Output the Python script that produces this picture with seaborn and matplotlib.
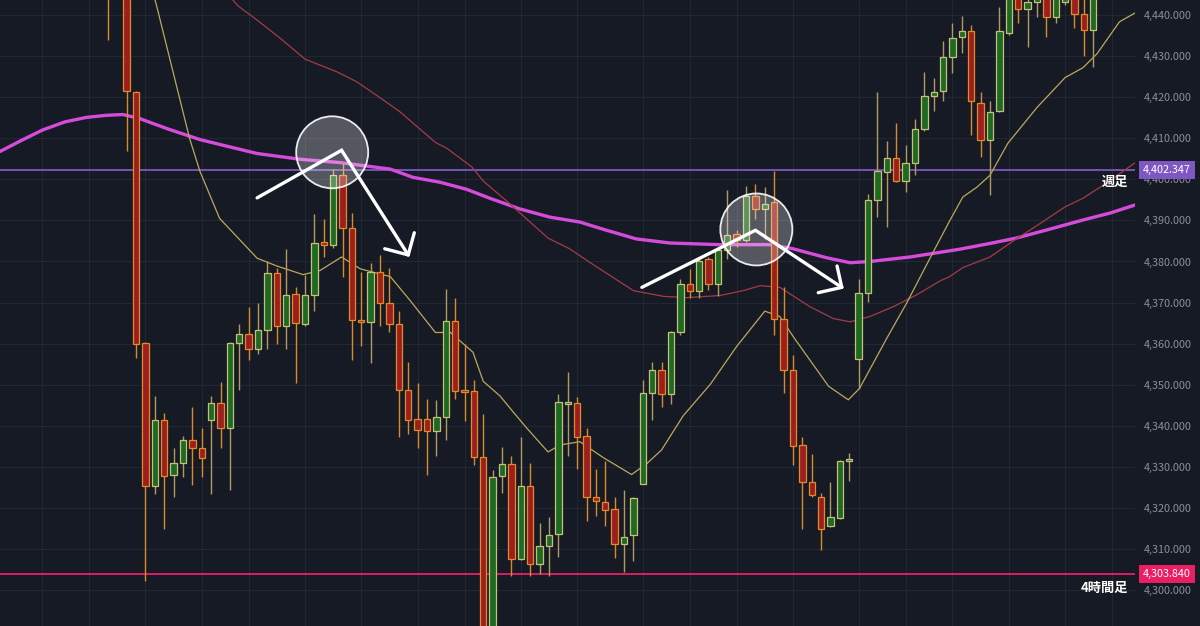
import matplotlib
matplotlib.use("Agg")
import matplotlib.pyplot as plt
import matplotlib.transforms as mtransforms
from matplotlib.patches import Ellipse
import seaborn as sns

# 4h candles, one entry per candle (x = candle number)
opens = [4455, 4450, 4447, 4421.2, 4360.1, 4325.2, 4341.4, 4328.1, 4331.0, 4336.6,
         4334.6, 4341.4, 4345.6, 4339.5, 4360.1, 4362.4, 4358.8, 4363.4, 4377.3, 4364.4,
         4372.1, 4364.7, 4371.9, 4384.8, 4384.1, 4401.0, 4388.2, 4365.8, 4365.2, 4377.5,
         4370.0, 4364.7, 4348.7, 4341.7, 4341.7, 4338.8, 4342.1, 4365.6, 4348.5, 4348.5,
         4332.4, 4286.0, 4327.8, 4330.7, 4307.5, 4325.2, 4306.2, 4310.7, 4313.6, 4345.4,
         4345.6, 4337.5, 4322.7, 4321.5, 4319.6, 4311.1, 4313.3, 4325.9, 4347.9, 4353.5,
         4347.7, 4362.7, 4374.6, 4372.7, 4380.5, 4374.6, 4382.8, 4386.7, 4385.3, 4396.0,
         4392.8, 4394.4, 4365.9, 4353.5, 4335.3, 4326.4, 4322.7, 4315.5, 4317.6, 4331.4,
         4356.2, 4372.4, 4395.0, 4401.8, 4405.1, 4399.6, 4403.9, 4412.2, 4420.2, 4421.6,
         4429.9, 4434.8, 4436.1, 4418.7, 4409.5, 4416.7, 4435.6, 4447.0, 4441.6, 4443.2,
         4448.0, 4439.6, 4443.2, 4447.0, 4440.2, 4436.3]
highs = [4460, 4456, 4450, 4421.5, 4360.5, 4347.2, 4343.0, 4334.6, 4337.5, 4344.6,
         4339.5, 4347.2, 4350.6, 4360.3, 4364.7, 4369.0, 4370.0, 4380.2, 4378.5, 4383.1,
         4373.7, 4376.8, 4391.6, 4390.4, 4402.5, 4404.1, 4391.8, 4377.5, 4379.7, 4381.6,
         4378.5, 4367.9, 4355.4, 4350.4, 4346.5, 4346.3, 4373.4, 4371.2, 4359.8, 4351.1,
         4342.9, 4329.3, 4334.9, 4332.7, 4337.2, 4331.0, 4316.2, 4317.8, 4347.7, 4353.0,
         4346.9, 4339.5, 4329.5, 4331.4, 4322.7, 4324.4, 4322.7, 4351.1, 4355.6, 4355.4,
         4363.0, 4375.8, 4378.2, 4381.1, 4381.1, 4383.6, 4397.3, 4387.6, 4398.3, 4398.9,
         4398.1, 4402.0, 4373.9, 4357.2, 4337.2, 4333.2, 4323.7, 4326.2, 4331.6, 4333.4,
         4375.8, 4396.4, 4421.4, 4409.3, 4413.8, 4408.3, 4414.6, 4426.2, 4424.8, 4433.8,
         4438.1, 4439.8, 4437.7, 4421.2, 4419.0, 4442.0, 4449.0, 4450.0, 4446.0, 4447.0,
         4451.0, 4448.0, 4447.0, 4450.0, 4444.5, 4449.0]
lows = [4434.0, 4446, 4407.0, 4356.6, 4302.1, 4323.3, 4314.9, 4322.7, 4327.5, 4325.6,
        4327.5, 4323.3, 4334.6, 4324.4, 4348.7, 4356.0, 4357.4, 4358.6, 4359.8, 4358.8,
        4350.4, 4364.2, 4367.9, 4381.1, 4383.4, 4376.3, 4356.0, 4359.5, 4355.3, 4364.2,
        4362.7, 4337.2, 4338.0, 4334.6, 4328.1, 4332.7, 4336.6, 4346.5, 4341.1, 4330.4,
        4280.0, 4282.0, 4323.7, 4303.3, 4307.2, 4303.3, 4303.9, 4303.3, 4308.1, 4332.7,
        4329.5, 4316.9, 4318.1, 4315.5, 4307.7, 4304.3, 4307.0, 4325.7, 4341.4, 4344.6,
        4345.3, 4362.2, 4371.2, 4371.2, 4373.1, 4371.7, 4380.7, 4383.6, 4384.7, 4390.4,
        4385.5, 4362.0, 4347.9, 4330.4, 4314.9, 4322.7, 4309.7, 4315.3, 4317.2, 4326.6,
        4348.9, 4370.2, 4390.8, 4388.4, 4399.4, 4396.9, 4401.0, 4411.7, 4416.7, 4419.2,
        4426.0, 4430.9, 4410.7, 4405.4, 4396.2, 4416.5, 4435.1, 4438.0, 4432.3, 4439.6,
        4434.7, 4438.0, 4442.5, 4436.8, 4430.0, 4427.4]
closes = [4448, 4452, 4421.6, 4359.8, 4325.2, 4341.4, 4327.8, 4331.0, 4336.6, 4334.6,
          4332.2, 4345.6, 4339.5, 4360.1, 4362.4, 4358.8, 4363.2, 4377.3, 4364.4, 4371.9,
          4364.9, 4371.9, 4384.5, 4384.1, 4401.0, 4388.2, 4365.8, 4365.3, 4377.5, 4370.0,
          4364.7, 4348.7, 4341.4, 4339.0, 4338.8, 4342.1, 4365.6, 4348.5, 4348.3, 4332.4,
          4288.0, 4327.5, 4330.7, 4307.5, 4325.2, 4306.2, 4310.7, 4313.3, 4345.8, 4345.8,
          4337.2, 4322.7, 4321.7, 4319.4, 4311.1, 4313.0, 4322.3, 4347.9, 4353.5, 4347.7,
          4362.7, 4374.6, 4372.7, 4380.2, 4374.6, 4382.8, 4386.5, 4385.3, 4396.0, 4392.8,
          4394.0, 4365.9, 4353.5, 4335.1, 4326.4, 4323.0, 4314.9, 4317.8, 4331.4, 4331.6,
          4372.4, 4395.0, 4402.0, 4405.1, 4399.6, 4403.9, 4412.2, 4420.4, 4421.4, 4429.9,
          4434.5, 4436.1, 4419.0, 4409.5, 4416.5, 4436.1, 4446.0, 4441.6, 4443.2, 4445.0,
          4439.6, 4446.0, 4444.0, 4440.2, 4436.3, 4446.0]

# moving averages (x = candle number, y = price)
ma_long_x = [-11.5, -9.3, -7, -4.6, -2.3, -0.2, 1.6, 3.4, 6.5, 9.8, 12.3, 15.9, 20.5,
             24.7, 30.1, 32.5, 35.4, 38.2, 40.7, 43.9, 47.1, 50.3, 52.7, 56.3, 59.9,
             65.2, 70.5, 73.0, 76.6, 79.1, 81.2, 85.5, 90.8, 94.0, 96.8, 100.4, 103.9,
             106.8, 109.5]
ma_long_y = [4406.8, 4409.4, 4412.0, 4414.0, 4415.1, 4415.6, 4415.8, 4414.8, 4412.2,
             4409.7, 4408.3, 4406.3, 4404.9, 4404.1, 4402.5, 4400.5, 4399.3, 4397.6,
             4395.4, 4392.8, 4390.8, 4389.6, 4387.9, 4385.5, 4384.5, 4384.1, 4384.1,
             4383.1, 4380.9, 4379.7, 4380.0, 4381.1, 4383.0, 4384.4, 4385.7, 4387.9,
             4390.1, 4391.8, 4393.8]

ma_fast_x = [4.5, 5.2, 8.7, 9.8, 11.9, 15.9, 18.0, 20.8, 22.6, 24.9, 26.9, 30.1, 32.2,
             34.9, 36.5, 38.9, 40.0, 41.8, 43.2, 44.6, 46.9, 48.2, 50.3, 52.8, 55.8,
             57.4, 59.0, 61.3, 64.2, 67.0, 70.0, 71.6, 73.0, 74.8, 76.8, 78.9, 80.1,
             83.0, 85.1, 87.9, 89.7, 91.1, 92.6, 94.0, 95.9, 99.0, 102.0, 103.9, 105.4,
             107.8, 109.5]
ma_fast_y = [4448.0, 4442.2, 4410.0, 4402.0, 4390.5, 4380.8, 4378.9, 4376.8, 4377.8,
             4381.1, 4378.2, 4376.3, 4370.5, 4362.7, 4362.7, 4357.9, 4350.8, 4347.2,
             4343.3, 4339.5, 4333.6, 4335.3, 4336.1, 4332.2, 4328.1, 4330.7, 4334.1,
             4342.4, 4350.1, 4359.3, 4367.9, 4366.6, 4361.8, 4356.0, 4349.6, 4346.3,
             4349.1, 4361.3, 4369.8, 4382.1, 4389.9, 4395.7, 4398.1, 4401.0, 4408.8,
             4417.5, 4424.8, 4427.2, 4430.6, 4438.4, 4440.6]

ma_mid_x = [12.0, 13.9, 15.9, 18.3, 21.0, 24.4, 26.5, 29.0, 31.1, 34.9, 36.1, 38.8,
            40.0, 42.5, 44.6, 46.9, 49.2, 51.4, 56.0, 59.2, 61.7, 65.2, 67.7, 69.5,
            71.6, 74.8, 77.3, 79.1, 81.2, 83.7, 86.2, 88.7, 89.7, 91.1, 94.0, 96.8,
            99.3, 102.0, 103.9, 106.4, 109.5]
ma_mid_y = [4447.0, 4442.2, 4438.8, 4434.5, 4429.3, 4426.2, 4423.8, 4419.9, 4416.5,
            4409.0, 4407.6, 4403.0, 4399.6, 4394.7, 4390.4, 4385.7, 4383.1, 4379.7,
            4372.9, 4371.5, 4371.2, 4371.7, 4372.9, 4374.1, 4373.7, 4369.0, 4366.1,
            4365.3, 4366.6, 4369.0, 4371.9, 4375.3, 4376.3, 4378.5, 4381.1, 4385.5,
            4389.2, 4393.3, 4395.4, 4399.1, 4404.1]

weekly_level = 4402.347
h4_level = 4303.840
price_ticks = list(range(4300, 4450, 10))
grid_x = [-7, -2, 4, 10, 15, 21, 27, 33, 38, 44, 50, 57, 62, 67, 73, 80, 85, 90, 96, 102, 107]

# hand-drawn marks: circles and arrows (candle number, price)
circle_centers = [(23.9, 4406.6), (69.1, 4387.8)]
arrow1_x = [15.9, 24.9, 32.0]
arrow1_y = [4395.5, 4407.1, 4381.6]
arrow2_x = [56.9, 69.0, 78.2]
arrow2_y = [4373.7, 4387.6, 4373.7]
head1 = [(29.5, 4383.1), (32.65, 4387.0)]
head2 = [(75.7, 4372.4), (77.7, 4378.9)]

bg = "#161a25"
sns.set_theme(style="dark", rc={"axes.facecolor": bg, "figure.facecolor": bg})
plt.rcParams["font.family"] = ["Noto Sans CJK JP", "DejaVu Sans"]

fig = plt.figure(figsize=(12, 6.26), dpi=100)
ax = fig.add_axes([0, 0, 1135 / 1200, 1])
ax.set_facecolor(bg)

xmin, xmax = -11.5, 109.45
ymin, ymax = 4291.2, 4443.7

# grid
for p in price_ticks:
    ax.axhline(p, color="#222735", lw=0.8, zorder=0)
for g in grid_x:
    ax.axvline(g, color="#222735", lw=0.8, zorder=0)

# level lines
ax.axhline(weekly_level, color="#7e57c2", lw=1.3, zorder=1)
ax.axhline(h4_level, color="#e91e63", lw=1.3, zorder=1)

# moving averages
sns.lineplot(x=ma_long_x, y=ma_long_y, ax=ax, color="#d54cdb", lw=2.4,
             sort=False, estimator=None, zorder=2)
sns.lineplot(x=ma_mid_x, y=ma_mid_y, ax=ax, color="#a23c48", lw=0.9,
             sort=False, estimator=None, zorder=2)
sns.lineplot(x=ma_fast_x, y=ma_fast_y, ax=ax, color="#bba95c", lw=0.9,
             sort=False, estimator=None, zorder=2)

# candles
for i, (o, h, l, c) in enumerate(zip(opens, highs, lows, closes)):
    up = c >= o
    wick = "#b09a62" if up else "#d98a2b"
    face = "#1d6a22" if up else "#9c1f1f"
    edge = "#c8c07a" if up else "#e08a2a"
    ax.vlines(i, l, h, color=wick, lw=1.0, zorder=3)
    body = max(abs(c - o), 0.45)
    ax.bar(i, body, bottom=min(o, c), width=0.68, color=face,
           edgecolor=edge, linewidth=0.9, zorder=4)

# circles and arrows
px_x = 9.385       # pixels per candle
px_y = 1 / 0.2435  # pixels per price unit
r = 36
for cx, cy in circle_centers:
    ax.add_patch(Ellipse((cx, cy), 2 * r / px_x, 2 * r / px_y, facecolor=(1, 1, 1, 0.27),
                         edgecolor=(1, 1, 1, 0.9), lw=1.3, zorder=5))
for xs, ys, head in [(arrow1_x, arrow1_y, head1), (arrow2_x, arrow2_y, head2)]:
    ax.plot(xs, ys, color="white", lw=2.4, solid_capstyle="round",
            solid_joinstyle="miter", zorder=6)
    for hx, hy in head:
        ax.plot([xs[-1], hx], [ys[-1], hy], color="white", lw=2.4,
                solid_capstyle="round", zorder=6)

ax.set_xlim(xmin, xmax)
ax.set_ylim(ymin, ymax)
ax.set_xticks([])
ax.yaxis.tick_right()
ax.set_yticks(price_ticks)
ax.set_yticklabels([f"{p:,.3f}" for p in price_ticks])
ax.tick_params(axis="y", length=0, pad=6, labelcolor="#8b8f9a", labelsize=7.8)
for s in ax.spines.values():
    s.set_visible(False)
ax.grid(False)

trans = mtransforms.blended_transform_factory(ax.transAxes, ax.transData)
ax.text(1 + 8 / 1135, weekly_level, f"{weekly_level:,.3f}", transform=trans,
        ha="left", va="center", color="white", fontsize=7.8, clip_on=False, zorder=10,
        bbox=dict(boxstyle="square,pad=0.35", facecolor="#7e57c2", edgecolor="none"))
ax.text(1 + 8 / 1135, h4_level, f"{h4_level:,.3f}", transform=trans,
        ha="left", va="center", color="white", fontsize=7.8, clip_on=False, zorder=10,
        bbox=dict(boxstyle="square,pad=0.35", facecolor="#e91e63", edgecolor="none"))
ax.text(1128 / 1135, 4399.4, "週足", transform=trans, ha="right", va="center",
        color="white", fontsize=9.5, fontweight="bold", zorder=10)
ax.text(1128 / 1135, 4300.4, "4時間足", transform=trans, ha="right", va="center",
        color="white", fontsize=9.5, fontweight="bold", zorder=10)

fig.savefig("out.png", dpi=100, facecolor=bg)
